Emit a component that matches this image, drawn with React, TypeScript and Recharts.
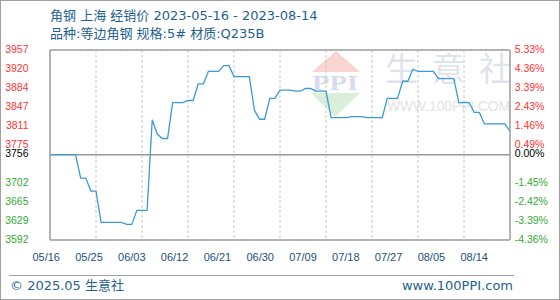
import React from 'react';
import { LineChart, Line, XAxis, YAxis, CartesianGrid, ReferenceLine } from 'recharts';

// ---- data ----
const startDate = '2023-05-16';
const prices = [
  3756, 3756, 3756, 3756, 3756, 3756, 3711, 3711, 3686, 3686,
  3626, 3626, 3626, 3626, 3626, 3622, 3622, 3649, 3649, 3649,
  3823, 3795, 3787, 3787, 3856, 3856, 3856, 3860, 3860, 3892,
  3892, 3916, 3916, 3916, 3927, 3927, 3906, 3906, 3906, 3906,
  3841, 3824, 3824, 3864, 3864, 3880, 3880, 3880, 3878, 3878,
  3883, 3883, 3878, 3878, 3878, 3827, 3827, 3827, 3827, 3829,
  3829, 3829, 3827, 3827, 3827, 3827, 3864, 3864, 3864, 3897,
  3897, 3920, 3916, 3916, 3916, 3916, 3902, 3902, 3902, 3902,
  3856, 3856, 3856, 3837, 3837, 3815, 3815, 3815, 3815, 3815,
  3801,
];
const xTicks = [0, 9, 18, 27, 36, 45, 54, 63, 72, 81, 90];
const xTickLabels = ['05/16', '05/25', '06/03', '06/12', '06/21', '06/30', '07/09', '07/18', '07/27', '08/05', '08/14'];
const yTicks = [3592, 3628.5, 3665, 3701.5, 3738, 3756, 3774.5, 3811, 3847.5, 3884, 3920.5, 3957];
const yLeftLabels = ['3592', '3629', '3665', '3702', '', '3756', '3775', '3811', '3847', '3884', '3920', '3957'];
const yRightLabels = ['-4.36%', '-3.39%', '-2.42%', '-1.45%', '', '0.00%', '0.49%', '1.46%', '2.43%', '3.39%', '4.36%', '5.33%'];
const baseline = 3756;
const yMin = 3592;
const yMax = 3957;

const title = '角钢 上海 经销价 2023-05-16 - 2023-08-14';
const subtitle = '品种:等边角钢 规格:5# 材质:Q235B';
const footLeft = '© 2025.05 生意社';
const footRight = 'www.100PPI.com';
const wmChars = ['生', '意', '社'];

function dayLabel(i: number): string {
  const d = new Date(startDate + 'T00:00:00Z');
  d.setUTCDate(d.getUTCDate() + i);
  const m = String(d.getUTCMonth() + 1).padStart(2, '0');
  const dd = String(d.getUTCDate()).padStart(2, '0');
  return `${m}/${dd}`;
}

const data = prices.map((p, i) => ({ i, date: dayLabel(i), price: p }));

const RED = '#ff3333';
const GREEN = '#33aa33';
const BLUE_TEXT = '#1e5f92';
const AXIS_FONT = '"Liberation Sans", Arial, sans-serif';
const TEXT_FONT = '"DejaVu Sans", "Noto Sans CJK SC", sans-serif';

function colorFor(v: number) {
  if (Math.abs(v - baseline) < 0.01) return '#000';
  return v > baseline ? RED : GREEN;
}

const LeftTick = (props: any) => {
  const { x, y, payload } = props;
  const idx = yTicks.indexOf(payload.value);
  const label = idx >= 0 ? yLeftLabels[idx] : '';
  if (!label) return null;
  return (
    <text x={x} y={y - 1} dy="0.355em" textAnchor="end" fontSize={10.5} fontFamily={AXIS_FONT} fill={colorFor(payload.value)}>
      {label}
    </text>
  );
};

const RightTick = (props: any) => {
  const { x, y, payload } = props;
  const idx = yTicks.indexOf(payload.value);
  const label = idx >= 0 ? yRightLabels[idx] : '';
  if (!label) return null;
  return (
    <text x={x} y={y - 1} dy="0.355em" textAnchor="start" fontSize={10.5} fontFamily={AXIS_FONT} fill={colorFor(payload.value)}>
      {label}
    </text>
  );
};

const BottomTick = (props: any) => {
  const { x, y, payload } = props;
  const idx = xTicks.indexOf(payload.value);
  const label = idx >= 0 ? xTickLabels[idx] : '';
  const k = idx >= 0 ? idx : 0;
  return (
    <text x={x} y={y} dx={-3.8 - 3.2 * k} dy="0.71em" textAnchor="middle" fontSize={11} fontFamily={AXIS_FONT} fill="#1a4f80">
      {label}
    </text>
  );
};

const Watermark = () => (
  <svg width={560} height={300} style={{ position: 'absolute', left: 0, top: 0 }}>
    <polygon points="312,72 360,72 336,51" fill="#f9d6d2" />
    <text x={312} y={90} fontSize={21} fontWeight="bold" fontFamily='"Liberation Serif", serif' fill="#d6dcea" textLength={46} lengthAdjust="spacingAndGlyphs">PPI</text>
    <polygon points="311,93 360,93 335,117" fill="#d9efd9" />
    {wmChars.map((c, k) => (
      <text key={c} x={385 + 47 * k} y={81} fontSize={33} fontFamily='"Noto Sans CJK SC", sans-serif' fill="#dfe3ee">{c}</text>
    ))}
    <text x={387} y={111} fontSize={14} fontFamily='"Liberation Sans", Arial, sans-serif' fill="#e3e3e3" textLength={123} lengthAdjust="spacingAndGlyphs">WWW.100PPI.COM</text>
  </svg>
);

export default function App() {
  return (
    <div style={{ position: 'absolute', left: 0, top: 0, width: 560, height: 300, background: '#fff', overflow: 'hidden' }}>
      <Watermark />
      <div style={{ position: 'absolute', left: 0, top: 0, width: 560, height: 300, zIndex: 1 }}>
        <LineChart width={560} height={300} data={data} margin={{ top: 50, right: 5, bottom: 30, left: 5 }}>
          <CartesianGrid stroke="#c8c8c8" strokeDasharray="3 2" />
          <XAxis
            dataKey="i"
            type="number"
            domain={[0, 90]}
            ticks={xTicks}
            interval={0}
            height={30}
            tickSize={0}
            tickMargin={12.7}
            tickLine={false}
            axisLine={{ stroke: '#a0a0a0', strokeWidth: 1.5 }}
            tick={<BottomTick />}
          />
          <YAxis
            yAxisId="left"
            orientation="left"
            type="number"
            domain={[yMin, yMax]}
            ticks={yTicks}
            interval={0}
            width={45}
            tickSize={0}
            tickMargin={21.5}
            tickLine={false}
            axisLine={{ stroke: '#a0a0a0', strokeWidth: 1.5 }}
            tick={<LeftTick />}
            allowDataOverflow
          />
          <YAxis
            yAxisId="right"
            orientation="right"
            type="number"
            domain={[yMin, yMax]}
            ticks={yTicks}
            interval={0}
            width={45}
            tickSize={0}
            tickMargin={4.7}
            tickLine={false}
            axisLine={{ stroke: '#a0a0a0', strokeWidth: 1.5 }}
            tick={<RightTick />}
            allowDataOverflow
          />
          <ReferenceLine yAxisId="left" y={yMax} stroke="#a0a0a0" strokeWidth={1.5} />
          <ReferenceLine yAxisId="left" y={baseline} stroke="#999" strokeWidth={1.5} />
          <Line
            yAxisId="left"
            type="linear"
            dataKey="price"
            stroke="#3a9ad9"
            strokeWidth={1.3}
            dot={false}
            activeDot={false}
            isAnimationActive={false}
          />
        </LineChart>
      </div>
      <div style={{ position: 'absolute', left: 50, top: 8, fontFamily: TEXT_FONT, fontSize: 13, lineHeight: '15px', color: BLUE_TEXT, whiteSpace: 'nowrap', zIndex: 2 }}>{title}</div>
      <div style={{ position: 'absolute', left: 50, top: 25.5, fontFamily: TEXT_FONT, fontSize: 13, lineHeight: '15px', color: BLUE_TEXT, whiteSpace: 'nowrap', zIndex: 2 }}>{subtitle}</div>
      <div style={{ position: 'absolute', left: 9, top: 274.5, width: 505, height: 0, borderTop: '1px solid #a0a0a0' }} />
      <div style={{ position: 'absolute', left: 10, top: 278, fontFamily: TEXT_FONT, fontSize: 13, lineHeight: '15px', color: BLUE_TEXT, whiteSpace: 'nowrap' }}>{footLeft}</div>
      <div style={{ position: 'absolute', right: 47, top: 278, fontFamily: TEXT_FONT, fontSize: 13, lineHeight: '15px', color: BLUE_TEXT, whiteSpace: 'nowrap' }}>{footRight}</div>
      <div style={{ position: 'absolute', left: 0, top: 0, width: 560, height: 300, boxSizing: 'border-box', border: '1px solid #a0a0a0', pointerEvents: 'none', zIndex: 3 }} />
    </div>
  );
}
